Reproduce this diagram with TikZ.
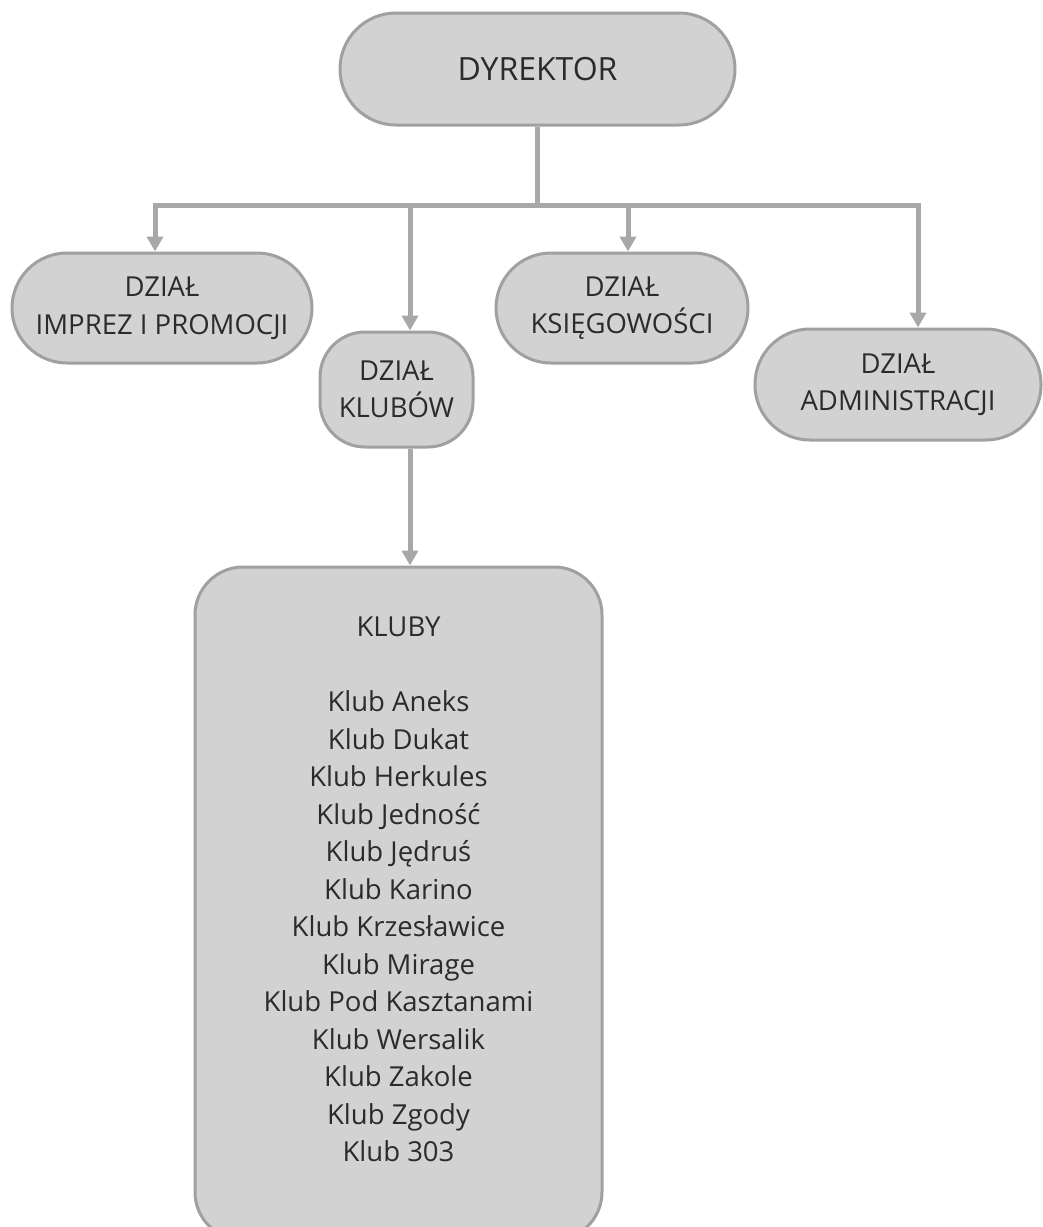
\documentclass[tikz,border=0pt]{standalone}
\usepackage{fontspec}
\setmainfont{Open Sans}
\usetikzlibrary{arrows.meta}
\definecolor{boxfill}{HTML}{D3D2D3}
\definecolor{boxline}{HTML}{A0A0A0}
\definecolor{connline}{HTML}{A8A8A8}
\definecolor{txt}{HTML}{2B2B2B}
\tikzset{
  unit/.style={draw=boxline, line width=3pt, fill=boxfill, text=txt, align=center, inner sep=0pt,
    font=\fontsize{27.5}{37.5}\selectfont},
  conn/.style={draw=connline, line width=5pt},
  arr/.style={conn, -{Triangle[width=16pt,length=15pt]}},
}
\begin{document}
\begin{tikzpicture}[x=1pt,y=1pt]
\useasboundingbox (0,0) rectangle (1043,-1227);
\node[unit, minimum width=395pt, minimum height=112pt, rounded corners=56pt,
  font=\fontsize{32}{40}\selectfont] (dyr) at (537.5,-69) {DYREKTOR};
\node[unit, minimum width=300pt, minimum height=110pt, rounded corners=55pt] (imp) at (162,-308) {DZIAŁ\\IMPREZ I PROMOCJI};
\node[unit, minimum width=153pt, minimum height=115pt, rounded corners=45pt] (klb) at (396.5,-389.5) {DZIAŁ\\KLUBÓW};
\node[unit, minimum width=252pt, minimum height=110pt, rounded corners=55pt] (ksi) at (622,-308) {DZIAŁ\\KSIĘGOWOŚCI};
\node[unit, minimum width=286pt, minimum height=111pt, rounded corners=55pt] (adm) at (898,-384.5) {DZIAŁ\\ADMINISTRACJI};
\node[unit, minimum width=407pt, minimum height=673pt, rounded corners=48pt] (kluby) at (398.5,-903.5) {};
\node[text=txt, align=center, inner sep=0pt, anchor=north, font=\fontsize{27.5}{37.5}\selectfont] (klist) at (398.5,-617)
  {KLUBY\\[37.5pt]Klub Aneks\\Klub Dukat\\Klub Herkules\\Klub Jedność\\Klub Jędruś\\Klub Karino\\Klub Krzesławice\\Klub Mirage\\Klub Pod Kasztanami\\Klub Wersalik\\Klub Zakole\\Klub Zgody\\Klub 303};
\coordinate (j) at (537.5,-205);
\coordinate (b1) at (155,-205);
\coordinate (b2) at (410,-205);
\coordinate (b3) at (628,-205);
\coordinate (b4) at (918,-205);
\draw[conn] (dyr.south) -- (j);
\draw[arr] (j) -- (b1) -- (b1 |- imp.north);
\draw[arr] (j) -- (b4) -- (b4 |- adm.north);
\draw[arr] (b2) -- (b2 |- klb.north);
\draw[arr] (b3) -- (b3 |- ksi.north);
\draw[arr] (b2 |- klb.south) -- (b2 |- kluby.north);
\end{tikzpicture}
\end{document}
